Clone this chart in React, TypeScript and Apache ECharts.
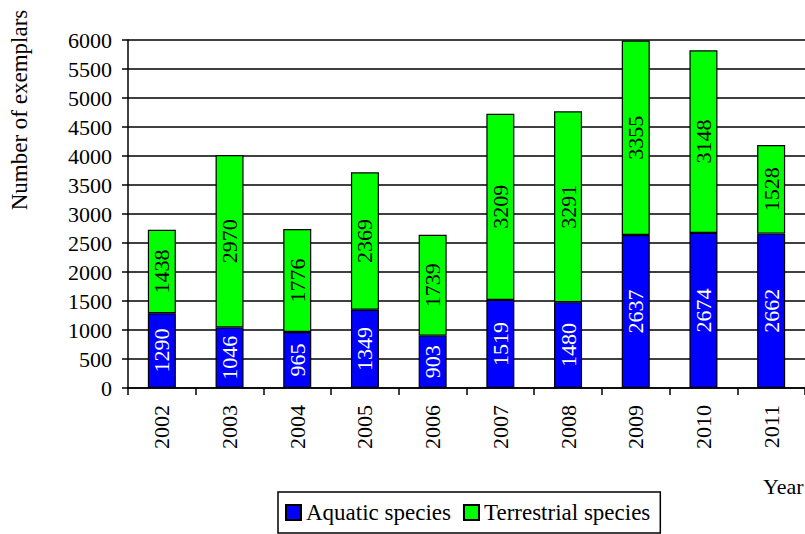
import React, { useEffect, useRef } from "react";
import * as echarts from "echarts";

const years = ["2002", "2003", "2004", "2005", "2006", "2007", "2008", "2009", "2010", "2011"];
const aquatic = [1290, 1046, 965, 1349, 903, 1519, 1480, 2637, 2674, 2662];
const terrestrial = [1438, 2970, 1776, 2369, 1739, 3209, 3291, 3355, 3148, 1528];
const seriesNames = ["Aquatic species", "Terrestrial species"];
const yAxisTitle = "Number of exemplars";
const xAxisTitle = "Year";

const FONT = "'Liberation Serif', 'Times New Roman', serif";

export default function App() {
  const ref = useRef<HTMLDivElement>(null);
  useEffect(() => {
    if (!ref.current) return;
    const chart = echarts.init(ref.current, undefined, { renderer: "svg" });
    chart.setOption({
      animation: false,
      backgroundColor: "#ffffff",
      textStyle: { fontFamily: FONT, color: "#000" },
      grid: { left: 128, right: -1, top: 40, bottom: 146, containLabel: false },
      legend: {
        data: seriesNames,
        left: 278,
        top: 492,
        orient: "horizontal",
        icon: "rect",
        itemWidth: 15,
        itemHeight: 15,
        itemGap: 12,
        padding: [9, 10, 9, 7],
        borderColor: "#000",
        borderWidth: 1.5,
        textStyle: { fontFamily: FONT, fontSize: 23, color: "#000" },
      },
      xAxis: {
        type: "category",
        data: years,
        boundaryGap: true,
        axisLine: { show: true, lineStyle: { color: "#000", width: 1.5 } },
        axisTick: { show: true, length: 7, interval: 0, lineStyle: { color: "#000", width: 1.5 } },
        axisLabel: { rotate: 90, margin: 17, fontSize: 22, fontFamily: FONT, color: "#000", interval: 0 },
        splitLine: { show: false },
      },
      yAxis: {
        type: "value",
        min: 0,
        max: 6000,
        interval: 500,
        axisLine: { show: true, lineStyle: { color: "#000", width: 1.5 } },
        axisTick: { show: true, length: 6, lineStyle: { color: "#000", width: 1.5 } },
        axisLabel: {
          margin: 16,
          fontSize: 22,
          fontFamily: FONT,
          color: "#000",
          formatter: (v: number) => String(v),
        },
        splitLine: { show: true, lineStyle: { color: "#000", width: 1.5 } },
      },
      series: [
        {
          name: seriesNames[0],
          type: "bar",
          stack: "total",
          data: aquatic,
          barWidth: 28,
          itemStyle: { color: "#0000FF", borderColor: "#000", borderWidth: 1.2 },
          label: {
            show: true,
            position: "inside",
            rotate: 90,
            color: "#fff",
            fontSize: 22,
            fontFamily: FONT,
          },
        },
        {
          name: seriesNames[1],
          type: "bar",
          stack: "total",
          data: terrestrial,
          barWidth: 28,
          itemStyle: { color: "#00FF00", borderColor: "#000", borderWidth: 1.2 },
          label: {
            show: true,
            position: "inside",
            rotate: 90,
            color: "#000",
            fontSize: 22,
            fontFamily: FONT,
          },
        },
      ],
      graphic: [
        {
          type: "text",
          x: 19,
          y: 110,
          rotation: Math.PI / 2,
          style: {
            text: yAxisTitle,
            font: `23px ${FONT}`,
            fill: "#000",
            textAlign: "center",
            textVerticalAlign: "middle",
          },
        },
        {
          type: "text",
          x: 763,
          y: 486,
          style: {
            text: xAxisTitle,
            font: `22px ${FONT}`,
            fill: "#000",
            textAlign: "left",
            textVerticalAlign: "middle",
          },
        },
      ],
    });
    return () => chart.dispose();
  }, []);
  return (
    <div
      ref={ref}
      style={{ position: "absolute", left: 0, top: 0, width: 805, height: 534 }}
    />
  );
}
